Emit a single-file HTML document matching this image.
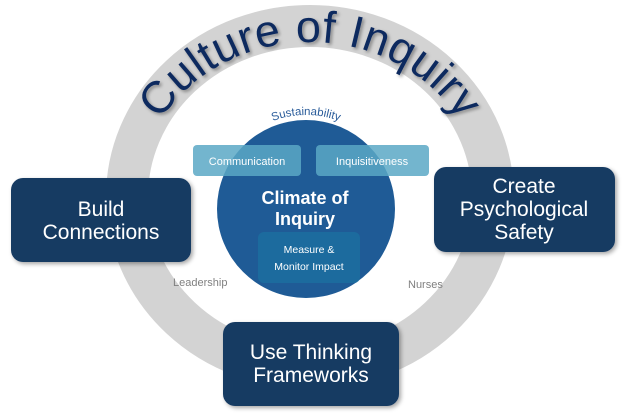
<!DOCTYPE html>
<html><head><meta charset="utf-8"><style>
html,body{margin:0;padding:0;background:#fff;}
body{width:624px;height:415px;overflow:hidden;position:relative;font-family:"Liberation Sans",sans-serif;}
</style></head><body>
<svg width="624" height="415" viewBox="0 0 624 415" xmlns="http://www.w3.org/2000/svg">
<defs>
<filter id="sh" x="-20%" y="-20%" width="140%" height="140%"><feDropShadow dx="2" dy="2" stdDeviation="2" flood-color="#000" flood-opacity="0.35"/></filter>
<filter id="tsh" x="-10%" y="-10%" width="120%" height="130%"><feDropShadow dx="2" dy="2" stdDeviation="1.5" flood-color="#000" flood-opacity="0.35"/></filter>
<path id="arc" d="M 136 202 A 174 160 0 0 1 484 202"/>
<path id="arc2" d="M 212 209 A 94 94 0 0 1 400 209"/>
</defs>
<ellipse cx="310" cy="197" rx="183" ry="171" fill="none" stroke="#d3d3d3" stroke-width="42"/>
<text font-family="Liberation Sans, sans-serif" font-size="45" fill="#102a5e" filter="url(#tsh)"><textPath href="#arc" startOffset="50%" text-anchor="middle" textLength="352" lengthAdjust="spacing">Culture of Inquiry</textPath></text>
<text font-family="Liberation Sans, sans-serif" font-size="11.5" fill="#2a5c9a"><textPath href="#arc2" startOffset="50%" text-anchor="middle">Sustainability</textPath></text>
<circle cx="306" cy="209" r="89" fill="#1f5b96"/>
<rect x="193" y="145" width="108" height="31" rx="4" fill="#5aa8c6" opacity="0.85"/>
<rect x="316" y="145" width="113" height="31" rx="4" fill="#5aa8c6" opacity="0.85"/>
<rect x="258" y="232" width="102" height="51" rx="6" fill="#1c6fa0" opacity="0.85"/>
<text x="247" y="165" font-size="11" fill="#fff" text-anchor="middle">Communication</text>
<text x="372" y="165" font-size="11" fill="#fff" text-anchor="middle">Inquisitiveness</text>
<text x="305" y="204" font-size="18" font-weight="bold" fill="#fff" text-anchor="middle">Climate of</text>
<text x="305" y="225" font-size="18" font-weight="bold" fill="#fff" text-anchor="middle">Inquiry</text>
<text x="309" y="253" font-size="10.5" fill="#fff" text-anchor="middle">Measure &amp;</text>
<text x="309" y="270" font-size="10.5" fill="#fff" text-anchor="middle">Monitor Impact</text>
<text x="173" y="286" font-size="11" fill="#808080">Leadership</text>
<text x="408" y="288" font-size="11" fill="#808080">Nurses</text>
<rect x="11" y="178" width="180" height="84" rx="12" fill="#173a62" filter="url(#sh)"/>
<rect x="434" y="167" width="181" height="85" rx="12" fill="#173a62" filter="url(#sh)"/>
<rect x="223" y="322" width="176" height="84" rx="12" fill="#173a62" filter="url(#sh)"/>
<g font-size="21" fill="#fff" text-anchor="middle">
<text x="101" y="216">Build</text>
<text x="101" y="239">Connections</text>
<text x="524" y="193">Create</text>
<text x="524" y="216">Psychological</text>
<text x="524" y="239">Safety</text>
<text x="311" y="359">Use Thinking</text>
<text x="311" y="382">Frameworks</text>
</g>
</svg>
</body></html>
